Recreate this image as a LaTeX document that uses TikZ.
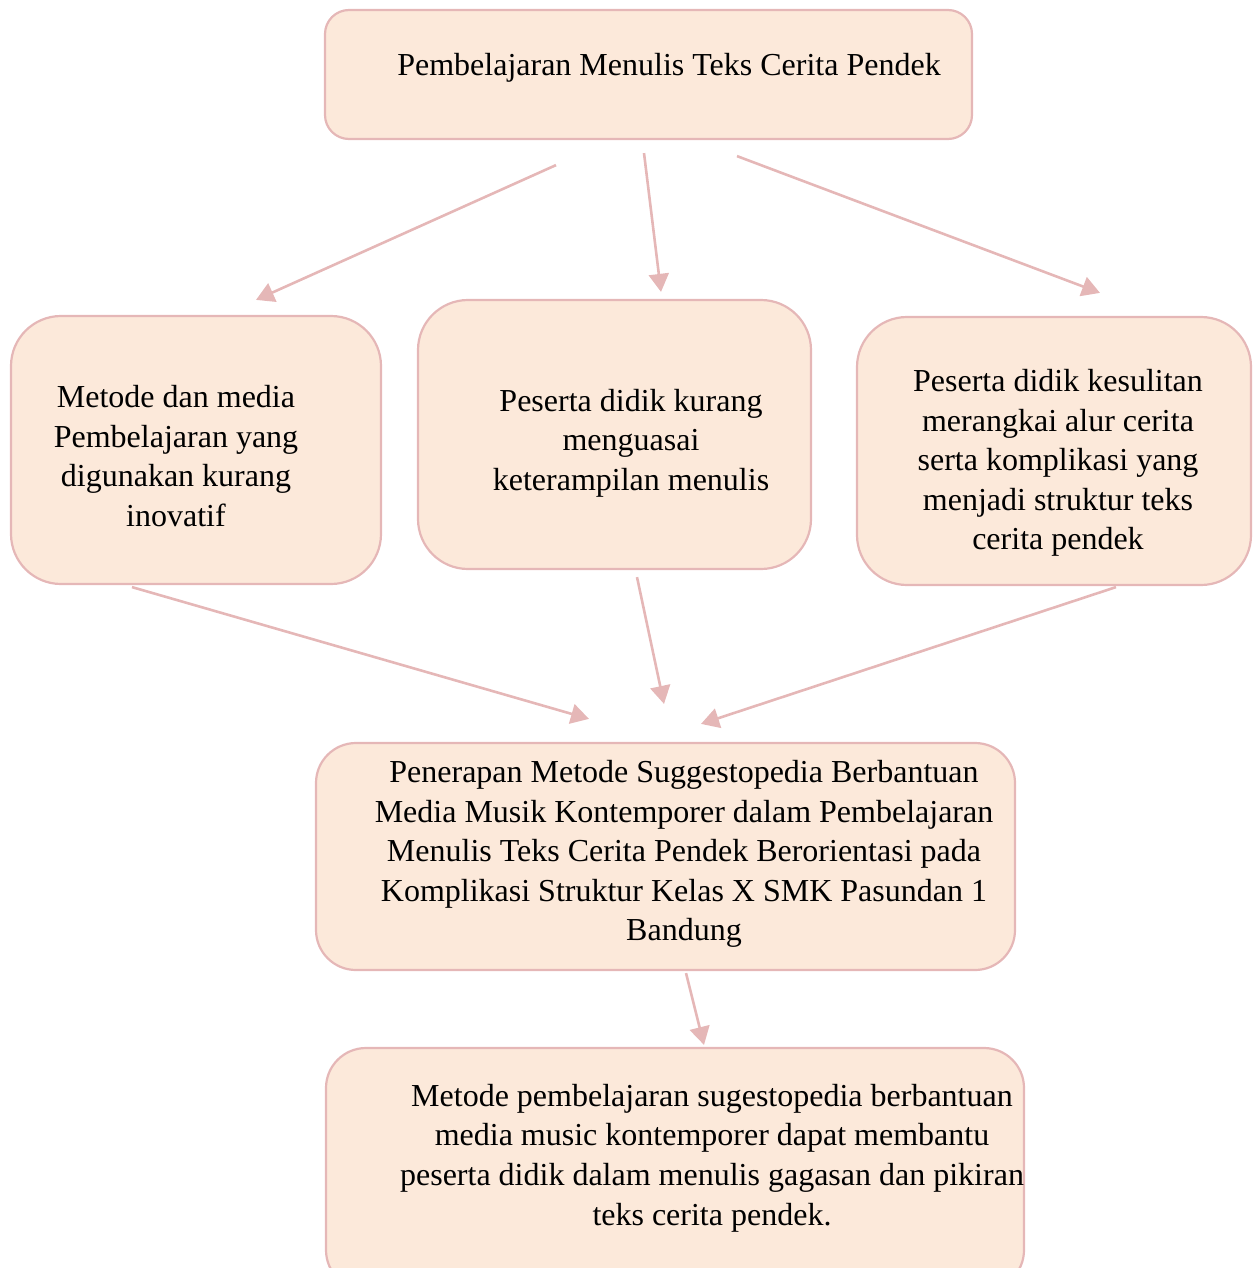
\documentclass[tikz,border=0pt]{standalone}
\usepackage{fontspec}
\setmainfont{Liberation Serif}
\usepackage{tikz}
\usetikzlibrary{arrows.meta,calc,positioning}
\definecolor{boxfill}{RGB}{252,233,218}
\definecolor{boxline}{RGB}{229,183,183}
\tikzset{
  flowbox/.style={draw=boxline,fill=boxfill,line width=1.1pt,rounded corners=#1},
  flowtext/.style={align=center,font=\fontsize{16}{19.8}\selectfont,inner sep=0pt},
  flowarrow/.style={draw=boxline,line width=1.3pt,-{Triangle[length=9pt,width=10pt]}}
}
\begin{document}
\begin{tikzpicture}[x=0.5pt,y=-0.5pt]
  \useasboundingbox (0,0) rectangle (1256,1268);
  % boxes
  \node[flowbox=12pt,minimum width=323.5pt,minimum height=64.5pt] (top) at (648.5,74.5) {};
  \node[flowbox=25pt,minimum width=185pt,minimum height=134pt] (left) at (196,450) {};
  \node[flowbox=25pt,minimum width=196.5pt,minimum height=134.5pt] (mid) at (614.5,434.5) {};
  \node[flowbox=25pt,minimum width=197pt,minimum height=134pt] (right) at (1054,451) {};
  \node[flowbox=20pt,minimum width=349.5pt,minimum height=113.5pt] (lower) at (665.5,856.5) {};
  \node[flowbox=20pt,minimum width=349pt,minimum height=121pt] (bottom) at (675,1169) {};
  % texts
  \node[flowtext] (toptxt) at (669,68) {Pembelajaran Menulis Teks Cerita Pendek};
  \node[flowtext] (lefttxt) at (176,456) {Metode dan media\\Pembelajaran yang\\digunakan kurang\\inovatif};
  \node[flowtext] (midtxt) at (631,443) {Peserta didik kurang\\menguasai\\keterampilan menulis};
  \node[flowtext] (righttxt) at (1058,463) {Peserta didik kesulitan\\merangkai alur cerita\\serta komplikasi yang\\menjadi struktur teks\\cerita pendek};
  \node[flowtext] (lowertxt) at (684,854) {Penerapan Metode Suggestopedia Berbantuan\\Media Musik Kontemporer dalam Pembelajaran\\Menulis Teks Cerita Pendek Berorientasi pada\\Komplikasi Struktur Kelas X SMK Pasundan 1\\Bandung};
  \node[flowtext] (bottomtxt) at (712,1158) {Metode pembelajaran sugestopedia berbantuan\\media music kontemporer dapat membantu\\peserta didik dalam menulis gagasan dan pikiran\\teks cerita pendek.};
  % arrows
  \draw[flowarrow] ([shift={(-92.5,25)}]top.south) -- ([shift={(60,-15)}]left.north);
  \draw[flowarrow] ([shift={(-4.5,13)}]top.south) -- ([shift={(46.5,-7)}]mid.north);
  \draw[flowarrow] ([shift={(88.5,16)}]top.south) -- ([shift={(46,-23)}]right.north);
  \draw[flowarrow] ([shift={(-64,2)}]left.south) -- ([shift={(-76.5,-23)}]lower.north);
  \draw[flowarrow] ([shift={(22.5,7)}]mid.south) -- ([shift={(-1.5,-38)}]lower.north);
  \draw[flowarrow] ([shift={(62,1)}]right.south) -- ([shift={(35.5,-18)}]lower.north);
  \draw[flowarrow] ([shift={(20.5,2)}]lower.south) -- ([shift={(29,-2)}]bottom.north);
\end{tikzpicture}
\end{document}
